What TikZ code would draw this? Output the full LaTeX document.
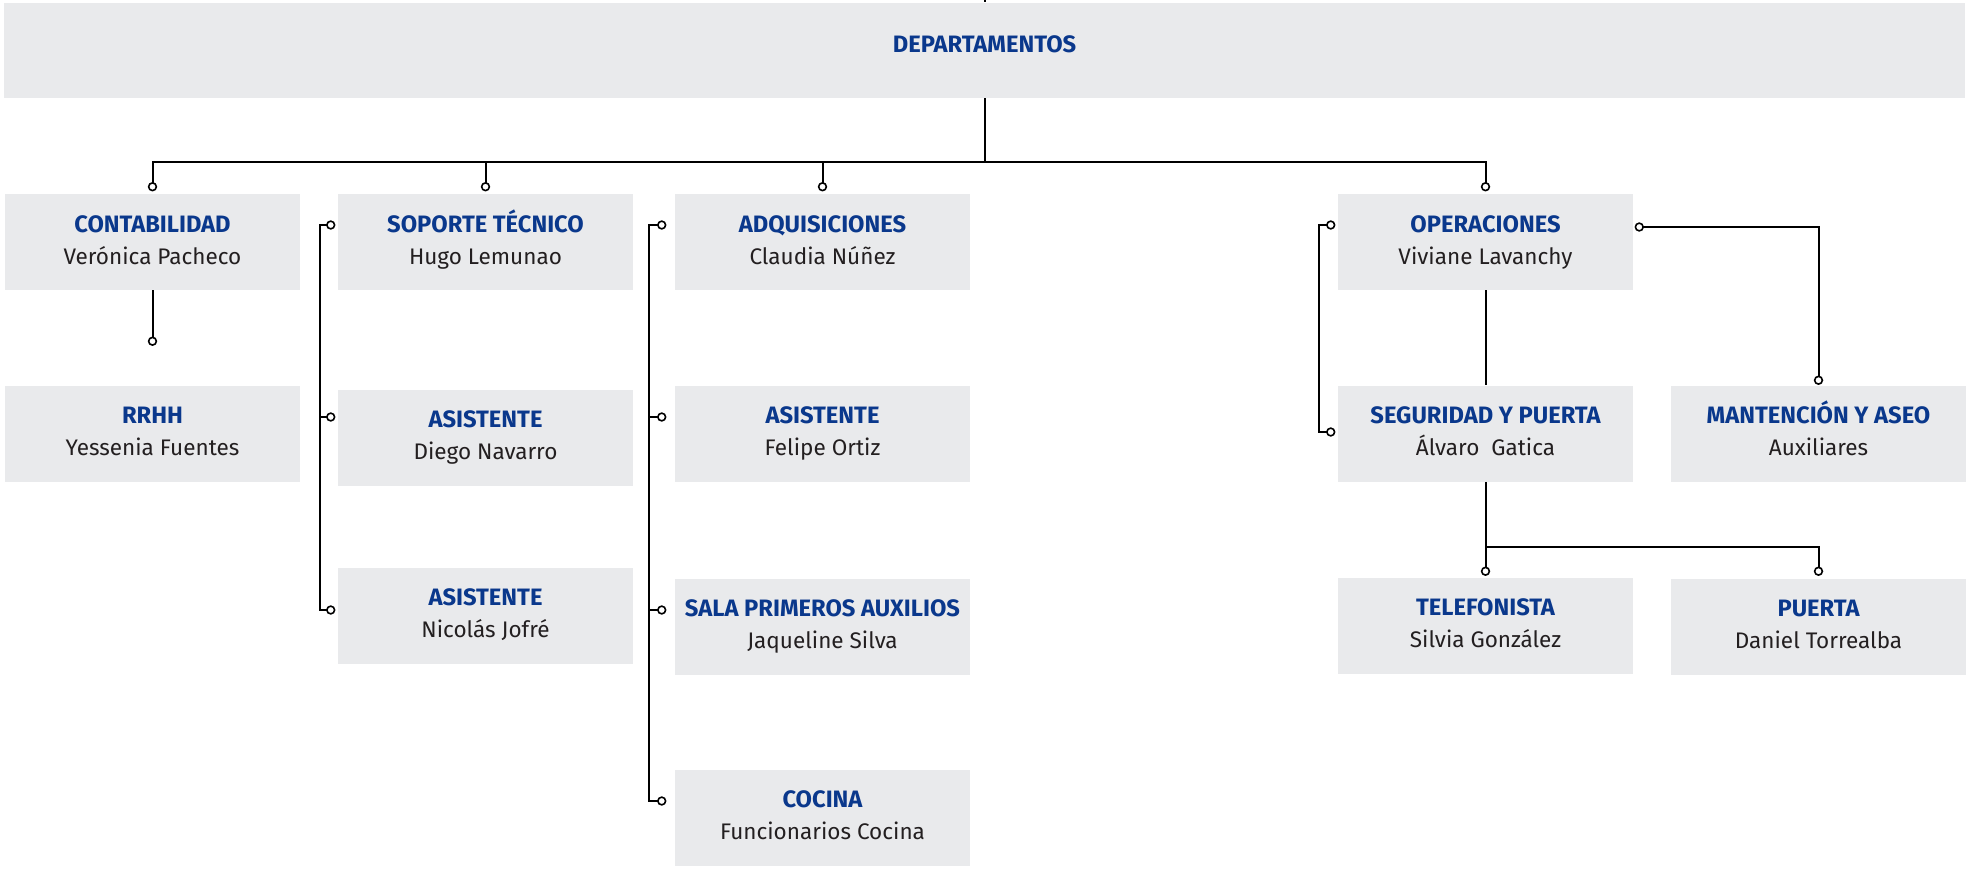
\documentclass[tikz,border=0pt]{standalone}
\usepackage{fontspec}
\setmainfont{Fira Sans}
\usetikzlibrary{calc}
\definecolor{boxgray}{RGB}{233,234,236}
\definecolor{ttlblue}{RGB}{10,56,140}
\definecolor{nametxt}{RGB}{35,31,32}
\tikzset{
 boxst/.style={fill=boxgray, draw=none, minimum width=221.25pt, minimum height=72pt, inner sep=0pt},
 ttlst/.style={anchor=base, inner sep=0pt, font=\bfseries\fontsize{17.8}{20}\selectfont, text=ttlblue},
 namest/.style={anchor=base, inner sep=0pt, font=\fontsize{16.9}{20}\selectfont, text=nametxt},
 conn/.style={line width=1.5pt, draw=black},
 dot/.style={circle, draw=black, fill=white, line width=1.2pt, minimum size=5.8pt, inner sep=0pt},
}
\newcommand{\orgbox}[5]{%
 \node[boxst] (#1) at (#2,#3) {};
 \node[ttlst] (#1-t) at ($(#1.center)+(0,-10)$) {#4};
 \node[namest] (#1-n) at ($(#1.center)+(0,22)$) {#5};
}
\begin{document}
\begin{tikzpicture}[x=0.75pt, y=-0.75pt]
\useasboundingbox (0,0) rectangle (1967,868);
% top box
\node[boxst, minimum width=1470.75pt, minimum height=71.6pt] (dep) at (984.5,50.25) {};
\node[ttlst] (dep-t) at ($(dep.center)+(0,2)$) {DEPARTAMENTOS};
% boxes
\orgbox{cont}{152.5}{242}{CONTABILIDAD}{Verónica Pacheco}
\orgbox{sop}{485.5}{242}{SOPORTE TÉCNICO}{Hugo Lemunao}
\orgbox{adq}{822.5}{242}{ADQUISICIONES}{Claudia Núñez}
\orgbox{ope}{1485.5}{242}{OPERACIONES}{Viviane Lavanchy}
\orgbox{rrhh}{152.5}{433.5}{RRHH}{Yessenia Fuentes}
\orgbox{asi1}{485.5}{437.5}{ASISTENTE}{Diego Navarro}
\orgbox{asi2}{485.5}{615.5}{ASISTENTE}{Nicolás Jofré}
\orgbox{asi3}{822.5}{433.5}{ASISTENTE}{Felipe Ortiz}
\orgbox{sala}{822.5}{626.5}{SALA PRIMEROS AUXILIOS}{Jaqueline Silva}
\orgbox{coc}{822.5}{817.5}{COCINA}{Funcionarios Cocina}
\orgbox{seg}{1485.5}{433.5}{SEGURIDAD Y PUERTA}{Álvaro~~Gatica}
\orgbox{man}{1818.5}{433.5}{MANTENCIÓN Y ASEO}{Auxiliares}
\orgbox{tel}{1485.5}{625.5}{TELEFONISTA}{Silvia González}
\orgbox{pue}{1818.5}{626.5}{PUERTA}{Daniel Torrealba}
% coordinates
\coordinate (topend) at (985,0);
\coordinate (bus) at (985,162);
\coordinate (cont-in) at ($(cont.north)+(0,-7)$);
\coordinate (sop-in) at ($(sop.north)+(0,-7)$);
\coordinate (adq-in) at ($(adq.north)+(0,-7)$);
\coordinate (ope-in) at ($(ope.north)+(0,-7)$);
\coordinate (rrhh-in) at ($(rrhh.north)+(0,-44)$);
\coordinate (sop-l) at ($(sop.west)+(-7,-17)$);
\coordinate (asi1-l) at ($(asi1.west)+(-7,-20.5)$);
\coordinate (asi2-l) at ($(asi2.west)+(-7,-5.5)$);
\coordinate (adq-l) at ($(adq.west)+(-13,-17)$);
\coordinate (asi3-l) at ($(asi3.west)+(-13,-16.5)$);
\coordinate (sala-l) at ($(sala.west)+(-13,-16.5)$);
\coordinate (coc-l) at ($(coc.west)+(-13,-16.5)$);
\coordinate (ope-l) at ($(ope.west)+(-7,-17)$);
\coordinate (seg-l) at ($(seg.west)+(-7,-1.5)$);
\coordinate (ope-r) at ($(ope.east)+(6,-15)$);
\coordinate (man-in) at ($(man.north)+(0,-5)$);
\coordinate (segbus) at ($(seg.south)+(0,65)$);
\coordinate (tel-in) at ($(tel.north)+(0,-6)$);
\coordinate (pue-in) at ($(pue.north)+(0,-7)$);
% connectors
\draw[conn] (topend) -- (dep.north -| topend);
\draw[conn] (dep.south -| bus) -- (bus);
\draw[conn] (cont-in) -- (cont-in |- bus) -- (ope-in |- bus) -- (ope-in);
\draw[conn] (sop-in |- bus) -- (sop-in);
\draw[conn] (adq-in |- bus) -- (adq-in);
\draw[conn] (cont.south) -- (rrhh-in);
\draw[conn] (sop-l) -- ++(-11,0) |- (asi2-l);
\draw[conn] (asi1-l) -- ++(-11,0);
\draw[conn] (adq-l) -- ++(-13,0) |- (coc-l);
\draw[conn] (asi3-l) -- ++(-13,0);
\draw[conn] (sala-l) -- ++(-13,0);
\draw[conn] (ope-l) -- ++(-12,0) |- (seg-l);
\draw[conn] (ope-r) -| (man-in);
\draw[conn] (ope.south) -- (seg.north);
\draw[conn] (seg.south) -- (tel-in);
\draw[conn] (segbus) -| (pue-in);
% dots
\foreach \c in {cont-in,sop-in,adq-in,ope-in,rrhh-in,sop-l,asi1-l,asi2-l,adq-l,asi3-l,sala-l,coc-l,ope-l,seg-l,ope-r,man-in,tel-in,pue-in}
  \node[dot] at (\c) {};
\end{tikzpicture}
\end{document}
